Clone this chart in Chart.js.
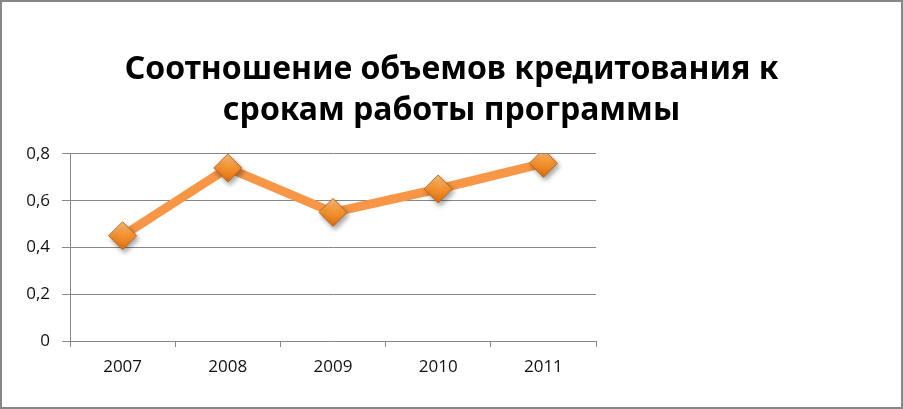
<!DOCTYPE html>
<html lang="ru">
<head>
<meta charset="utf-8">
<title>Соотношение объемов кредитования</title>
<script src="https://cdn.jsdelivr.net/npm/chart.js@4/dist/chart.umd.min.js"></script>
<style>
  html, body { margin: 0; padding: 0; background: #fff; }
  #wrap { position: relative; width: 903px; height: 409px; }
  #frame { position: absolute; inset: 0; border: 2px solid #878787; pointer-events: none; }
</style>
</head>
<body>
<div id="wrap">
  <canvas id="chart"></canvas>
  <div id="frame"></div>
</div>
<script>
"use strict";

// данные графика
const YEARS = ["2007", "2008", "2009", "2010", "2011"];
const RATIO = [0.45, 0.74, 0.55, 0.65, 0.76];
const TITLE = ["Соотношение объемов кредитования к", "срокам работы программы"];

const GRID = "#878787";
const ORANGE = "#F79646";
const TICK_FONT = { family: "'Open Sans', sans-serif", size: 17 };

const fmt = (v) => (v === 0 ? "0" : v.toFixed(1).replace(".", ","));

// градиент ромба сверху вниз
function markerFill(c) {
  if (c.type !== "data") return ORANGE;
  const y = c.chart.scales.y;
  if (!y) return ORANGE;
  const py = y.getPixelForValue(c.raw);
  if (!Number.isFinite(py)) return ORANGE;
  const g = c.chart.ctx.createLinearGradient(0, py - 14, 0, py + 14);
  g.addColorStop(0, "#FBBE7C");
  g.addColorStop(0.5, "#F5922F");
  g.addColorStop(1, "#D96F12");
  return g;
}

// тень только под маркерами
const markerShadow = {
  id: "markerShadow",
  beforeDatasetDraw(chart, args) {
    if (args.index !== 0) return;
    const ctx = chart.ctx;
    ctx.save();
    ctx.shadowColor = "rgba(0,0,0,0.35)";
    ctx.shadowBlur = 5;
    ctx.shadowOffsetX = 2;
    ctx.shadowOffsetY = 3;
  },
  afterDatasetDraw(chart, args) {
    if (args.index === 0) chart.ctx.restore();
  },
};

new Chart(document.getElementById("chart"), {
  type: "line",
  data: {
    labels: YEARS,
    datasets: [
      {
        // маркеры
        data: RATIO,
        showLine: false,
        pointStyle: "rectRot",
        pointRadius: 14,
        pointHoverRadius: 14,
        pointBackgroundColor: markerFill,
        pointBorderColor: "#B9691F",
        pointBorderWidth: 1,
      },
      {
        // линия
        data: RATIO,
        borderColor: ORANGE,
        borderWidth: 9,
        tension: 0,
        pointRadius: 0,
        pointHoverRadius: 0,
      },
    ],
  },
  plugins: [markerShadow],
  options: {
    responsive: true,
    maintainAspectRatio: false,
    animation: false,
    layout: { padding: 0 },
    plugins: {
      legend: { display: false },
      tooltip: { enabled: false },
      title: {
        display: true,
        text: TITLE,
        color: "#000",
        font: { family: "'Noto Sans', sans-serif", size: 32, weight: "bold", lineHeight: 1.28 },
        padding: { top: 49, bottom: 23 },
      },
    },
    scales: {
      x: {
        offset: true,
        grid: { color: GRID, drawOnChartArea: false, tickLength: 6, offset: true },
        border: { color: GRID },
        ticks: { color: "#111", padding: 10, font: TICK_FONT },
        afterFit: (s) => { s.height = 68; },
      },
      y: {
        min: 0,
        max: 0.8,
        ticks: {
          stepSize: 0.2,
          color: "#111",
          padding: 12,
          font: TICK_FONT,
          callback: (v) => fmt(v),
        },
        grid: { color: GRID, tickLength: 8 },
        border: { color: GRID },
        afterFit: (s) => { s.width = 70; },
      },
      // пустое поле справа, как в оригинале
      side: {
        type: "linear",
        position: "right",
        display: true,
        grid: { display: false },
        border: { display: false },
        ticks: { display: false },
        afterFit: (s) => { s.width = 307; },
      },
    },
  },
});
</script>
</body>
</html>
